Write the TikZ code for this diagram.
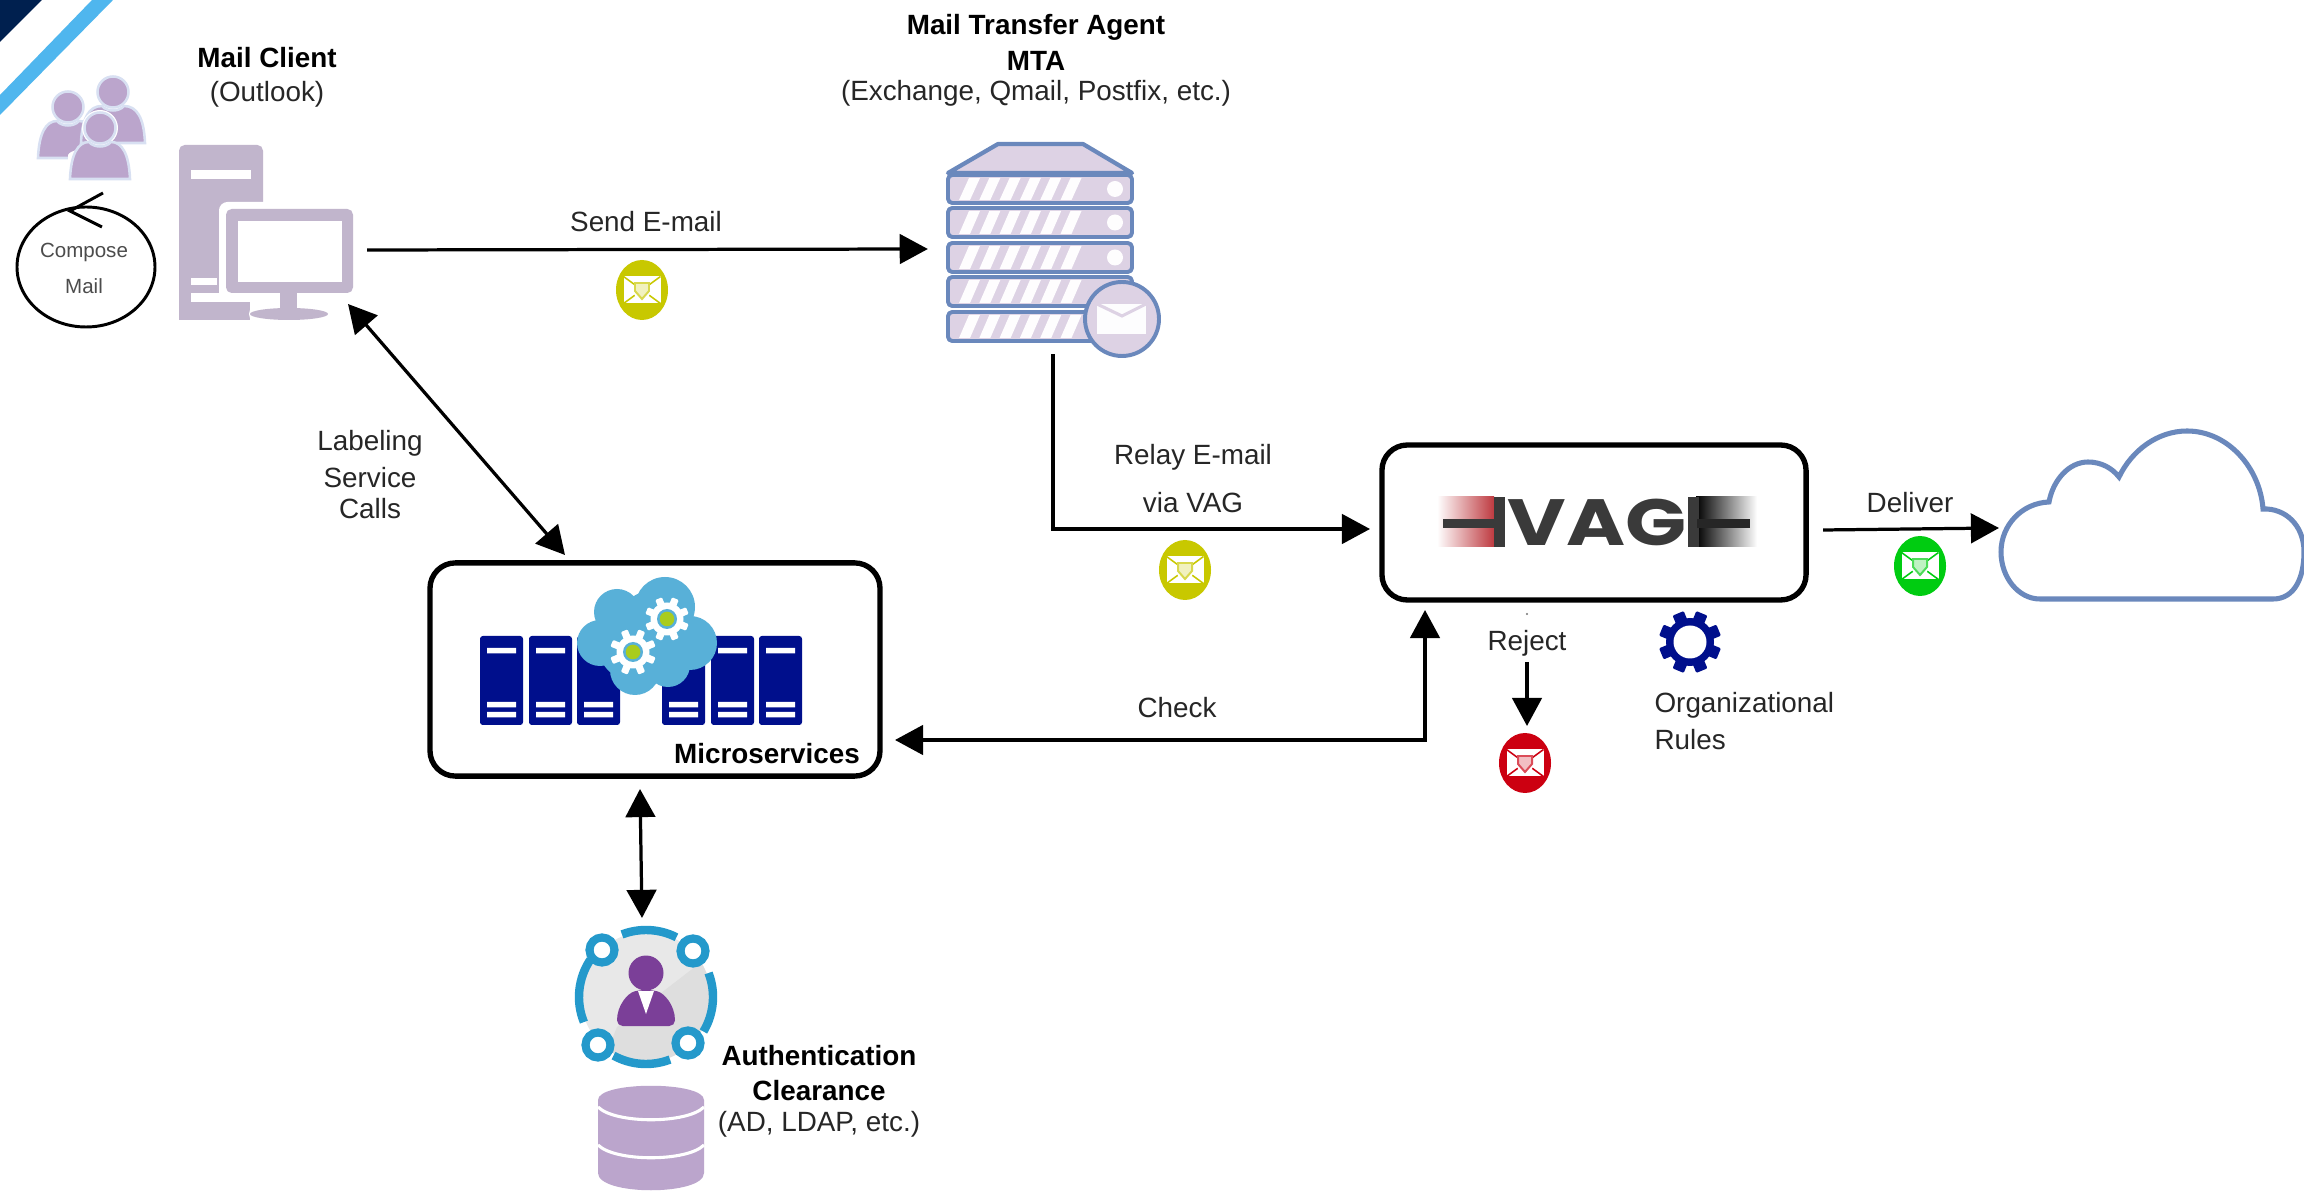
\documentclass[tikz,border=0pt]{standalone}
\usepackage{fontspec}
\setmainfont{Liberation Sans}
\newfontfamily\logofont{Poppins}
\usetikzlibrary{arrows.meta}
\definecolor{navy}{HTML}{00204F}
\definecolor{sky}{HTML}{4FB6EE}
\definecolor{lilac}{HTML}{BBA5CC}
\definecolor{halo}{HTML}{D8E0F2}
\definecolor{pcgrey}{HTML}{C1B5CC}
\definecolor{srvfill}{HTML}{DDD2E4}
\definecolor{srvline}{HTML}{6A88BC}
\definecolor{rackblue}{HTML}{000F8C}
\definecolor{cloudblue}{HTML}{58B0D8}
\definecolor{gearcore}{HTML}{A9CC1E}
\definecolor{ringblue}{HTML}{2499CB}
\definecolor{purple2}{HTML}{7B3F98}
\definecolor{badgeyellow}{HTML}{C8C800}
\definecolor{badgegreen}{HTML}{00CC11}
\definecolor{badgered}{HTML}{CC0011}
\definecolor{logored}{HTML}{BE3A40}
\definecolor{logodark}{HTML}{3A3A3A}
\tikzset{
  lbl/.style={font=\fontsize{9.9}{12}\selectfont,text=black!85,inner sep=0pt,align=center,yshift=-0.7pt},
  blbl/.style={lbl,font=\fontsize{9.9}{12}\selectfont\bfseries,text=black},
  small/.style={font=\fontsize{7.3}{9}\selectfont,text=black!70,inner sep=0pt},
  box/.style={draw=black,line width=1.9pt,rounded corners=9pt,fill=white},
  arr/.style={line width=1.15pt,-{Triangle[length=10pt,width=10.5pt]}},
  dbl/.style={line width=1.15pt,{Triangle[length=10pt,width=10.5pt]}-{Triangle[length=10pt,width=10.5pt]}},
  srv/.style={draw=srvline,line width=1.4pt,fill=srvfill,line join=round},
  port/.style={inner sep=0pt,outer sep=0pt,minimum size=0pt},
}
% badge: x, y, colour
\newcommand\badge[3]{%
  \begin{scope}[shift={(#1,#2)}]
    \fill[#3] (0,0) ellipse (26 and 30);
    \fill[white] (-18.5,-13.5) rectangle (18.5,13.5);
    \draw[#3,line width=0.55pt] (-18.5,-13.5) -- (18.5,13.5) (18.5,-13.5) -- (-18.5,13.5);
    \fill[white] (0,0) circle (9);
    \draw[#3!70!white,line width=0.7pt,fill=#3!25!white] (-7,-7) -- (7,-7) -- (7,1) -- (0,9) -- (-7,1) -- cycle;
  \end{scope}}
% gear: x, y, outer radius, body radius, tooth half-width, colour
\newcommand\gearshape[6]{%
  \begin{scope}[shift={(#1,#2)}]
    \foreach \a in {22.5,67.5,112.5,157.5} {
      \fill[#6,rotate=\a,rounded corners=0.4pt] (-#5,-#3) rectangle (#5,#3);
    }
    \fill[#6] (0,0) circle (#4);
  \end{scope}}
% rack of the mail server: top, bottom
\newcommand\rack[2]{%
  \draw[srv,rounded corners=1.5pt] (948,#1) rectangle (1132,#2);
  \foreach \i in {0,...,5} {
    \fill[white!96!srvfill] ({959+20.3*\i},{#2-3}) -- ({970+20.3*\i},{#2-3}) -- ({980+20.3*\i},{#1+3}) -- ({969+20.3*\i},{#1+3}) -- cycle;
  }
  \fill[white!96!srvfill] (1115,{(#1+#2)/2}) circle (8);}
\newcommand\person[3]{%
  \draw[halo,line width=0.9pt,fill=lilac] (#1,#2) circle (15.5);
  \begin{scope}[shift={(#1,#2)}]
    \draw[halo,line width=0.9pt,fill=lilac] (-#3,51) .. controls (-#3+1,26) and (-#3+8,14) .. (-11,14) .. controls (-6,20) and (6,20) .. (11,14) .. controls (#3-8,14) and (#3-1,26) .. (#3,51) -- cycle;
  \end{scope}}
\newcommand\blade[1]{%
  \fill[rackblue,rounded corners=1pt] (#1,636) rectangle ++(43,89);
  \fill[white] (#1+7,648) rectangle ++(29,5.5) (#1+7,702) rectangle ++(29,5.5) (#1+7,712) rectangle ++(29,5.5);}
\begin{document}
\begin{tikzpicture}[x=0.0125cm,y=-0.0125cm]
\useasboundingbox (0,0) rectangle (2304,1192);
\fill[white] (0,0) rectangle (2304,1192);

% corner stripes
\fill[navy] (0,0) -- (42,0) -- (0,42) -- cycle;
\fill[sky] (92,0) -- (113,0) -- (0,115) -- (0,95) -- cycle;

% people
\person{68}{107}{30}
\person{113}{92}{32}
\fill[white] (100,128) circle (18);
\fill[white] (68,180) -- (68,155) .. controls (72,145) and (128,145) .. (132,155) -- (132,180) -- cycle;
\person{100}{128}{30}

% compose loop
\draw[line width=1.05pt,black] (86,267) ellipse (69 and 60);
\coordinate (loopA) at (103,193);
\coordinate (loopB) at (70,211);
\coordinate (loopC) at (102,227);
\draw[line width=1.05pt,black] (loopA) -- (loopB) -- (loopC);
\node[small] (compose) at (84,252) {Compose};
\node[small] (mailtxt) at (84,286) {Mail};

% computer
\fill[pcgrey,rounded corners=2pt] (179,145) rectangle (263,320);
\fill[pcgrey] (179,300) rectangle (250,320);
\fill[white] (191,170) rectangle (251,179);
\fill[white] (191,278) rectangle (217,285);
\fill[white] (191,293) rectangle (250,302);
\fill[white,rounded corners=3pt] (219,202) rectangle (362,302);
\fill[white] (250,302) rectangle (335,325);
\fill[white] (263,314) ellipse (14 and 12);
\fill[pcgrey,rounded corners=2pt] (226,209) rectangle (353,293);
\fill[white] (238,221) rectangle (342,282);
\fill[pcgrey] (280,293) rectangle (297,312);
\fill[pcgrey] (289,314) ellipse (39 and 6);
\node[blbl] (clientT) at (267,56) {Mail Client};
\node[lbl] (clientS) at (267,92) {(Outlook)};

% mail server
\draw[srv,line width=1.5pt] (948,173) -- (998,144) -- (1083,144) -- (1132,173) -- cycle;
\rack{175}{203}
\rack{208}{237}
\rack{243}{272}
\rack{277}{306}
\rack{312}{341}
\draw[srv] (1122,319) circle (37);
\fill[white!95!srvfill] (1097,304) rectangle (1146,334);
\draw[srvfill,line width=1.1pt] (1097,304) -- (1122,316) -- (1146,304);
\node[blbl] (mtaA) at (1036,25) {Mail Transfer Agent};
\node[blbl] (mtaB) at (1036,59) {MTA};
\node[lbl] (mtaC) at (1036,91) {(Exchange, Qmail, Postfix, etc.)};
\node[minimum width=89pt,minimum height=74.7pt,inner sep=0pt,outer sep=0pt] (mta) at (1053,249) {};

% microservices box
\node[box,minimum width=160pt,minimum height=75.8pt,inner sep=0pt] (micro) at (655,669.5) {};
\blade{480}\blade{529}\blade{577}\blade{662}\blade{711}\blade{759}
\fill[cloudblue] (617,612) circle (23) (665,607) circle (30) (600,643) circle (23)
  (635,670) circle (25) (668,665) circle (22) (690,643) circle (27) (640,640) circle (44) (655,630) circle (40);
\gearshape{667}{619}{22}{16.5}{3.6}{white}
\fill[cloudblue] (667,619) circle (10);
\fill[gearcore] (667,619) circle (7.3);
\gearshape{633}{652}{23}{16.5}{3.6}{white}
\fill[cloudblue] (633,652) circle (10);
\fill[gearcore] (633,652) circle (7.3);
\node[blbl] (microT) at (767,752) {Microservices};

% VAG box
\node[box,minimum width=150.8pt,minimum height=55.1pt,inner sep=0pt] (vag) at (1594,522.5) {};
\shade[left color=white,right color=logored] (1437,497) rectangle (1494,547);
\shade[left color=black,right color=white] (1696,497) rectangle (1757,547);
\fill[logodark] (1443,519) rectangle (1496,528);
\fill[logodark] (1494,497) rectangle (1505,547);
\fill[logodark] (1688,497) rectangle (1699,547);
\fill[black!85] (1697,519) rectangle (1750,528);
\node[inner sep=0pt,text=logodark] (logo) at (1597,522) {\scalebox{1.14}[0.93]{\logofont\bfseries\fontsize{25}{25}\selectfont VAG}};

% cloud
\node[port] (net) at (1999,528) {};
\draw[draw=srvline,line width=1.8pt] (2040,599) .. controls (2018,599) and (2001,577) .. (2001,552)
  .. controls (2001,525) and (2022,503) .. (2049,502)
  .. controls (2053,480) and (2069,462) .. (2088,462)
  .. controls (2101,462) and (2112,468) .. (2119,477)
  .. controls (2132,450) and (2158,431) .. (2187,431)
  .. controls (2228,431) and (2260,468) .. (2263,509)
  .. controls (2285,508) and (2304,525) .. (2304,552)
  .. controls (2304,577) and (2295,599) .. (2273,599) -- cycle;

% authentication icon
\fill[black!9] (646,997) circle (65);
\begin{scope}
  \clip (646,997) circle (65);
  \fill[black!13] (700,963) -- (617,1027) -- (600,1070) -- (720,1070) -- (720,963) -- cycle;
\end{scope}
\draw[ringblue,line width=3pt] (646,997) ++(-21:67) arc (-21:31:67);
\draw[ringblue,line width=3pt] (646,997) ++(69:67) arc (69:119:67);
\draw[ringblue,line width=3pt] (646,997) ++(158:67) arc (158:214:67);
\draw[ringblue,line width=3pt] (646,997) ++(249:67) arc (249:297:67);
\draw[ringblue,line width=2.9pt,fill=white] (602,950) circle (12.5);
\draw[ringblue,line width=2.9pt,fill=white] (693,951) circle (12.5);
\draw[ringblue,line width=2.9pt,fill=white] (598,1045) circle (12.5);
\draw[ringblue,line width=2.9pt,fill=white] (688,1043) circle (12.5);
\fill[purple2] (646,973) circle (17.5);
\fill[purple2,rounded corners=2pt] (617,1026) .. controls (617,1005) and (628,993) .. (640,990) -- (652,990) .. controls (664,993) and (675,1005) .. (675,1026) -- cycle;
\fill[white] (638,991) -- (654,991) -- (646,1014) -- cycle;

% database
\fill[lilac] (598,1100) -- (598,1173) .. controls (598,1196) and (704,1196) .. (704,1173) -- (704,1100) .. controls (704,1081) and (598,1081) .. (598,1100) -- cycle;
\draw[white,line width=1.1pt] (598,1107) .. controls (615,1124) and (687,1124) .. (704,1107);
\draw[white,line width=1.1pt] (598,1145) .. controls (615,1162) and (687,1162) .. (704,1145);
\node[blbl] (authA) at (819,1054) {Authentication};
\node[blbl] (authB) at (819,1089) {Clearance};
\node[lbl] (authC) at (819,1122) {(AD, LDAP, etc.)};

% organisational rules
\gearshape{1690}{642}{31}{24}{6}{rackblue}
\fill[white] (1690,642) circle (16.5);
\node[lbl,anchor=west] (orgA) at (1654,703) {Organizational};
\node[lbl,anchor=west] (orgB) at (1654,738) {Rules};

% ports of the connectors
\node[port] (pcout) at (367,250) {};
\node[port] (pcport) at (348,304) {};
\node[port] (microtop) at (565,555) {};
\node[port] (microright) at (895,740) {};
\node[port] (microbottom) at (640,789) {};
\node[port] (authtop) at (642,918) {};
\node[port] (vagin) at (1370,529) {};
\node[port] (vagout) at (1823,530) {};
\node[port] (vagbottom) at (1425,610) {};
\node[port] (rejA) at (1527,662) {};
\node[port] (rejB) at (1527,726) {};

% connectors
\draw[arr] (pcout) -- (mta.west);
\draw[arr] (mta.south) |- (vagin);
\draw[arr] (vagout) -- (net);
\draw[dbl] (pcport) -- (microtop);
\draw[dbl] (microbottom) -- (authtop);
\draw[dbl] (microright) -| (vagbottom);
\draw[arr] (rejA) -- (rejB);
\fill[black!55] (1527,614) circle (1.2);

% connector labels
\node[lbl] (lSend) at (646,220) {Send E-mail};
\node[lbl] (lRelay) at (1193,455) {Relay E-mail};
\node[lbl] (lVia) at (1193,501) {via VAG};
\node[lbl] (lDeliver) at (1910,501) {Deliver};
\node[lbl] (lLab) at (370,441) {Labeling};
\node[lbl] (lSrv) at (370,476) {Service};
\node[lbl] (lCalls) at (370,507) {Calls};
\node[lbl] (lCheck) at (1177,706) {Check};
\node[lbl] (lReject) at (1527,641) {Reject};

% badges
\badge{642}{290}{badgeyellow}
\badge{1185}{570}{badgeyellow}
\badge{1920}{566}{badgegreen}
\badge{1525}{763}{badgered}
\end{tikzpicture}
\end{document}
